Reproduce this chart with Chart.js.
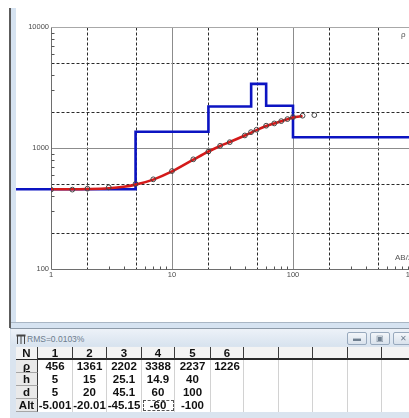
<!DOCTYPE html>
<html>
<head>
<meta charset="utf-8">
<script src="https://cdn.jsdelivr.net/npm/chart.js@4.4.1/dist/chart.umd.min.js"></script>
<style>
  html, body { margin: 0; padding: 0; width: 409px; height: 418px; overflow: hidden; background: #fff;
    font-family: "Liberation Sans", Arial, sans-serif; }
  #chartBox { position: absolute; left: 0; top: 0; width: 440px; height: 290px; }
  .abs { position: absolute; }
  .frameLine { left: 9px; top: 8px; width: 2px; height: 320px; background: #5c5c5c; }
  .frameStrip { left: 11px; top: 8px; width: 5px; height: 317px; background: #d6e3f1; }
  .winBottom { left: 11px; top: 322px; width: 398px; height: 6px; background: #d6e3f1; border-top: 1px solid #a9b6c4; box-sizing: border-box; }
  .axisNote { font-size: 8px; color: #555; white-space: nowrap; }
  #panel { left: 10px; top: 328px; width: 399px; height: 90px; background: #dae4ef; border-top: 1px solid #8d9aa8; box-sizing: border-box; }
  #titleBar { left: 11px; top: 329px; width: 398px; height: 17px; background: linear-gradient(#edf2f8, #d8e3ef); }
  #rms { left: 27px; top: 334px; font-size: 8.5px; color: #6d7d8e; white-space: nowrap; }
  .btn { top: 332px; height: 13px; border: 1px solid #98a9bd; border-radius: 2px; background: linear-gradient(#f3f6fa, #d9e2ec);
    box-sizing: border-box; font-size: 8px; line-height: 11px; color: #6f7f90; text-align: center; }
  .cell { position: absolute; box-sizing: border-box; text-align: center; font-family: "Liberation Sans Narrow", "Liberation Sans", Arial, sans-serif;
    font-weight: bold; font-size: 11.5px; color: #111; line-height: 13px; white-space: nowrap; overflow: hidden; }
</style>
</head>
<body>
<div id="chartBox"><canvas id="c" width="440" height="290"></canvas></div>
<div class="abs frameStrip"></div>
<div class="abs frameLine"></div>
<div class="abs axisNote" style="left:401px; top:30px;">ρ</div>
<div class="abs axisNote" style="left:395px; top:253px;">AB/2</div>
<div class="abs winBottom"></div>
<div id="panel" class="abs"></div>
<div id="titleBar" class="abs"></div>
<svg class="abs" style="left:16px; top:334px;" width="10" height="10" viewBox="0 0 10 10">
  <rect x="0.5" y="0.5" width="9" height="2" fill="#444"/>
  <line x1="1.5" y1="2" x2="1.5" y2="10" stroke="#444" stroke-width="1"/>
  <line x1="5" y1="2" x2="5" y2="10" stroke="#444" stroke-width="1"/>
  <line x1="8.5" y1="2" x2="8.5" y2="10" stroke="#444" stroke-width="1"/>
</svg>
<div id="rms" class="abs">RMS=0.0103%</div>
<div class="abs btn" style="left:347px; width:20px;">&#9644;</div>
<div class="abs btn" style="left:370px; width:20px;">&#9635;</div>
<div class="abs btn" style="left:393px; width:20px;">&#10005;</div>
<div id="table"></div>

<script>
// Layered earth model (inversion result)
const layerNo    = [1, 2, 3, 4, 5, 6];
const layerRho   = [456, 1361, 2202, 3388, 2237, 1226];
const layerThk   = [5, 15, 25.1, 14.9, 40];
const layerDepth = [5, 20, 45.1, 60, 100];
const layerAlt   = [-5.001, -20.01, -45.15, -60, -100];
const modelStartX = 0.5;
const modelEndX   = 3000;

// Field measurements: AB/2 spacing and apparent resistivity
const obsAB  = [1, 1.5, 2, 3, 5, 7, 10, 15, 20, 25, 30, 40, 45, 50, 60, 70, 80, 90, 100, 120, 150];
const obsRho = [453, 453, 461, 473, 505, 551, 645, 806, 936, 1043, 1117, 1270, 1352, 1415, 1528, 1596, 1668, 1733, 1800, 1849, 1871];

// Computed sounding curve for the model
const calcAB  = [1, 1.5, 2, 3, 4, 5, 7, 10, 15, 20, 25, 30, 40, 50, 60, 70, 80, 90, 100, 120];
const calcRho = [456, 456, 458, 465, 478, 498, 548, 640, 800, 935, 1040, 1120, 1268, 1405, 1520, 1595, 1665, 1730, 1785, 1840];

// Axis labels and grid positions
const xTickValues = [1, 10, 100, 1000];
const yTickValues = [100, 1000, 10000];
const xDashed = [2, 5, 20, 50, 200, 500];
const yDashed = [200, 500, 2000, 5000];
const xSolid  = [10, 100];
const ySolid  = [1000];
const xMinor  = [3, 4, 6, 7, 8, 9, 30, 40, 60, 70, 80, 90, 300, 400, 600, 700, 800, 900];
const yMinor  = [300, 400, 600, 700, 800, 900, 3000, 4000, 6000, 7000, 8000, 9000];

const modelPts = [{ x: modelStartX, y: layerRho[0] }];
layerDepth.forEach((d, i) => {
  modelPts.push({ x: d, y: layerRho[i] });
  modelPts.push({ x: d, y: layerRho[i + 1] });
});
modelPts.push({ x: modelEndX, y: layerRho[layerRho.length - 1] });

const obsPts  = obsAB.map((a, i) => ({ x: a, y: obsRho[i] }));
const calcPts = calcAB.map((a, i) => ({ x: a, y: calcRho[i] }));

const logGrid = {
  id: 'logGrid',
  beforeDatasetsDraw(chart) {
    const { ctx, chartArea: a, scales: { x, y } } = chart;
    const px = v => Math.round(x.getPixelForValue(v)) + 0.5;
    const py = v => Math.round(y.getPixelForValue(v)) + 0.5;
    const seg = (x1, y1, x2, y2) => { ctx.beginPath(); ctx.moveTo(x1, y1); ctx.lineTo(x2, y2); ctx.stroke(); };
    const L = Math.round(a.left) + 0.5, R = Math.round(a.right) + 0.5;
    const T = Math.round(a.top) + 0.5, B = Math.round(a.bottom) + 0.5;
    ctx.save();
    ctx.lineWidth = 1;
    ctx.strokeStyle = '#2a2a2a';
    ctx.setLineDash([3, 2]);
    xDashed.forEach(v => { const p = px(v); seg(p, T, p, B); });
    yDashed.forEach(v => { const p = py(v); seg(L, p, R, p); });
    ctx.setLineDash([]);
    ctx.strokeStyle = '#8c8c8c';
    xSolid.forEach(v => { const p = px(v); seg(p, T, p, B); });
    ySolid.forEach(v => { const p = py(v); seg(L, p, R, p); });
    ctx.strokeStyle = '#a8a8a8';
    seg(L, T, R, T);
    seg(R, T, R, B);
    ctx.strokeStyle = '#6e6e6e';
    seg(L, T, L, B);
    seg(L, B, R, B);
    ctx.strokeStyle = '#555';
    xMinor.forEach(v => { const p = px(v); seg(p, B, p, B - 3); });
    yMinor.forEach(v => { const p = py(v); seg(L, p, L + 3, p); });
    ctx.restore();
  }
};

const tickFont = { family: '"Liberation Sans", Arial, sans-serif', size: 7.5 };

new Chart(document.getElementById('c'), {
  type: 'scatter',
  data: {
    datasets: [
      { data: obsPts, showLine: false, pointRadius: 2.4, pointHoverRadius: 2.4, pointBorderWidth: 1,
        pointBorderColor: '#444', pointBackgroundColor: 'rgba(0,0,0,0)' },
      { data: calcPts, showLine: true, borderColor: '#d41a1a', borderWidth: 2.6, pointRadius: 0,
        cubicInterpolationMode: 'monotone' },
      { data: modelPts, showLine: true, borderColor: '#0c14c2', borderWidth: 2.6, pointRadius: 0,
        tension: 0, clip: false }
    ]
  },
  options: {
    responsive: false,
    devicePixelRatio: 1,
    animation: false,
    events: [],
    layout: { padding: { top: 27, right: 26, left: 0, bottom: 0 } },
    plugins: { legend: { display: false }, tooltip: { enabled: false } },
    scales: {
      x: {
        type: 'logarithmic', min: 1, max: 1000,
        grid: { display: false, drawTicks: false }, border: { display: false },
        afterBuildTicks: s => { s.ticks = xTickValues.map(v => ({ value: v })); },
        afterFit: s => { s.height = 21; },
        ticks: { font: tickFont, color: '#4a4a4a', padding: 1, maxRotation: 0, autoSkip: false,
          callback: v => String(v) }
      },
      y: {
        type: 'logarithmic', min: 100, max: 10000,
        grid: { display: false, drawTicks: false }, border: { display: false },
        afterBuildTicks: s => { s.ticks = yTickValues.map(v => ({ value: v })); },
        afterFit: s => { s.width = 51; },
        ticks: { font: tickFont, color: '#4a4a4a', padding: 2, autoSkip: false,
          callback: v => String(v) }
      }
    }
  },
  plugins: [logGrid]
});

// Layer table
const colEdges = [16, 38, 73, 107, 142, 175, 211, 244, 279, 313, 348, 382, 416];
const rowEdges = [347, 360, 373, 386, 399, 412];
const rowHeads = ['N', 'ρ', 'h', 'd', 'Alt'];
const rows = [layerNo, layerRho, layerThk, layerDepth, layerAlt];
const focusCell = { row: 4, col: 4 };

const tbl = document.getElementById('table');
function box(l, t, w, h, css, text) {
  const el = document.createElement('div');
  el.className = 'cell';
  el.style.left = l + 'px'; el.style.top = t + 'px';
  el.style.width = w + 'px'; el.style.height = h + 'px';
  Object.assign(el.style, css || {});
  if (text !== undefined) el.textContent = text;
  tbl.appendChild(el);
  return el;
}
// body background
box(colEdges[0], rowEdges[0], 409 - colEdges[0], rowEdges[5] - rowEdges[0], { background: '#fff' });
for (let r = 0; r < rowHeads.length; r++) {
  const t = rowEdges[r], h = rowEdges[r + 1] - t;
  for (let c = 0; c < colEdges.length - 1; c++) {
    const l = colEdges[c], w = colEdges[c + 1] - l;
    const css = {};
    let text;
    if (c === 0) {
      text = rowHeads[r];
      Object.assign(css, { background: r === 0 ? '#f3f3f3' : '#e9e9e9', borderRight: '1px solid #3a3a3a',
        borderBottom: '1px solid ' + (r === 0 ? '#2a2a2a' : '#a6a6a6') });
      if (r === 1) css.textDecoration = 'underline';
    } else if (r === 0) {
      text = c <= layerNo.length ? String(layerNo[c - 1]) : '';
      Object.assign(css, { background: '#f3f3f3', borderRight: '1px solid #3a3a3a', borderBottom: '2px solid #2a2a2a' });
    } else {
      const vals = rows[r];
      text = c - 1 < vals.length ? String(vals[c - 1]) : '';
      Object.assign(css, { borderRight: '1px solid #d2d2d2' });
      if (r === focusCell.row && c === focusCell.col) {
        Object.assign(css, { outline: '1px dashed #555', outlineOffset: '-2px' });
      }
    }
    box(l, t, w, h, css, text);
  }
}
</script>
</body>
</html>
